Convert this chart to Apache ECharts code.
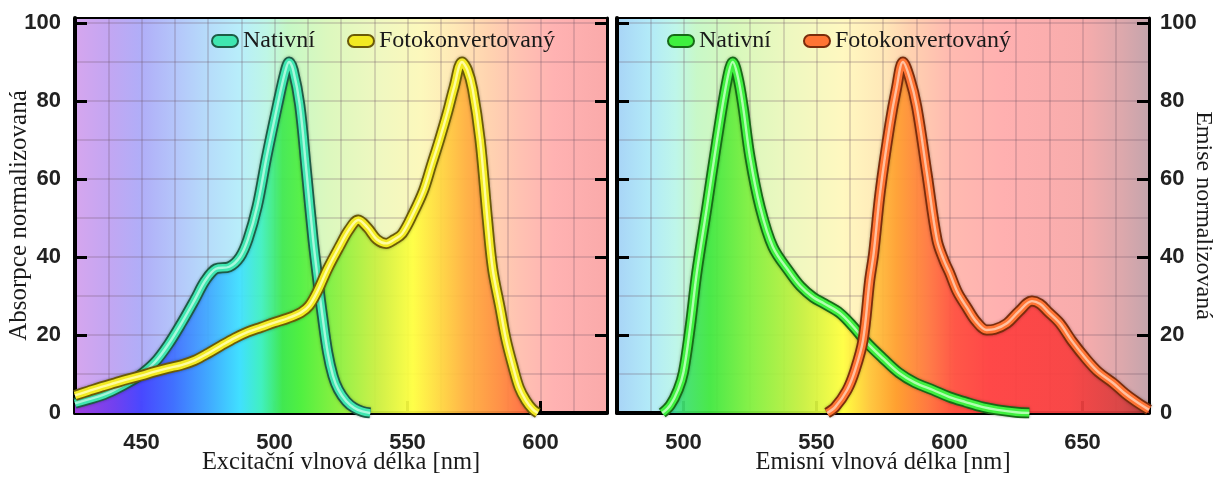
<!DOCTYPE html>
<html>
<head>
<meta charset="utf-8">
<script src="https://cdn.jsdelivr.net/npm/echarts@6/dist/echarts.min.js"></script>
<style>
html,body{margin:0;padding:0;background:#fff;}
#chart{width:1216px;height:477px;}
</style>
</head>
<body>
<div id="chart"></div>
<script>
// ---- Data ----
const excNatX = [425,430,435,440,445,450,455,460,465,470,474,478,483,487,490,493.5,497,501,504,505.5,507,509.5,512,514.5,516.5,518,520,522,524,527,530,533,536];
const excNatY = [2.5,3.5,4.5,6,7.8,10,13,17.5,23,29,34,37,37.5,40,44.5,53,65.5,78.5,87.5,90,88,79,62,44.5,33,25,15.5,9.5,6,3,1.3,0.4,0];

const excFotoX = [425,430,435,440,445,450,455,460,465,470,475,480,485,490,495,500,505,510,513,516,520,524.5,528,531.5,535,538.5,542,545,548,552,556,559,562,565,567.5,570.5,572.5,574.5,577.3,580,582,584.8,587,589.7,592,594.5,597,599];
const excFotoY = [4.5,5.6,6.7,7.7,8.7,9.6,10.6,11.5,12.3,13.5,15.3,17.3,19.2,20.8,22,23.2,24.3,25.8,27.5,31,37,42.8,47,49.5,47.5,44.5,43.5,44.5,46,51,57,63.5,70,77,83.5,90,88,83,70,50,37,27,19,11.8,6.5,3.2,1,0];

const emNatX = [492,495,498,500,502.5,505,508.8,512.6,516.4,518.5,520.5,522.4,525,528.8,533.6,540,544,548.7,553,558.8,564,569,575,581,587,593.8,600,606,612.6,618,625,630];
const emNatY = [0,2,6,10.5,22,36,52.8,70,85.4,90,86,78.5,65.6,52.8,42.6,36,32.5,29.7,28,25.6,22,18,14,10.3,7.8,5.9,4.1,2.8,1.5,0.8,0.2,0];

const emFotoX = [554,557,561.5,564.5,567.5,570,571.5,574,577.6,580,582.5,585,587.7,591.5,595.3,598,600,603,606.6,610,614,617,621.6,626,631,634,637,641.5,646,651.7,656,661.5,666,670,675];
const emFotoY = [0,1.5,5.9,11,18.7,34,41,57,74,83,90,86,78.5,61.5,44.4,39,36,31,27,23.5,21.3,21.5,23,26,28.7,28,26,23,18.5,13.6,10.5,7.7,5,3,0.8];

const excRange = [425, 625];
const emRange = [475, 675];
const xTicksExc = [450, 500, 550, 600];
const xTicksEm = [500, 550, 600, 650];
const yTicks = [0, 20, 40, 60, 80, 100];
const legendNames = ['Nativní', 'Fotokonvertovaný'];
const xNames = ['Excitační vlnová délka [nm]', 'Emisní vlnová délka [nm]'];
const yNames = ['Absorpce normalizovaná', 'Emise normalizovaná'];

// ---- Layout / style ----
const YMAX = 101.3;
const G0 = {left: 75, width: 532};
const G1 = {left: 617, width: 532};
const TOP = 18, HEIGHT = 395;
const SANS = 'Liberation Sans';
const SERIF = 'Liberation Serif';
const SMOOTH = 0.35;

function zip(xs, ys){ return xs.map((x,i)=>[x, ys[i]]); }
function grad(x0, x1, stops, global){
  return {type:'linear', x:x0, y:0, x2:x1, y2:0, global:!!global,
    colorStops: stops.map(s=>({offset:s[0], color:s[1]}))};
}
const bgExc = [[0,'#d6a6ee'],[0.06,'#c4a6f2'],[0.125,'#b0aef8'],[0.185,'#b4c4fa'],[0.25,'#b6dcfa'],[0.31,'#b8eefa'],[0.36,'#bef6e6'],[0.4,'#c6f8c6'],[0.475,'#dcf8be'],[0.575,'#f0f8c0'],[0.65,'#fcf8bc'],[0.715,'#ffe8b6'],[0.775,'#ffd4b0'],[0.835,'#ffc2b2'],[0.9,'#ffb2b2'],[1,'#faaaaa']];
const satExc = [[0,'#a040e0'],[0.075,'#7040f0'],[0.125,'#4848ff'],[0.185,'#4070ff'],[0.25,'#40a8ff'],[0.31,'#40e0ff'],[0.35,'#40f0c0'],[0.39,'#40e850'],[0.425,'#50f040'],[0.5,'#90f040'],[0.575,'#d0f040'],[0.635,'#ffff40'],[0.685,'#ffd840'],[0.735,'#ffb040'],[0.8,'#ff8c40'],[0.85,'#ff6a40'],[0.925,'#ff5050'],[1,'#ff5050']];
const bgEm = [[0,'#a8d4f6'],[0.06,'#b2eaf8'],[0.11,'#bef6ea'],[0.15,'#c8f8c8'],[0.225,'#d8f8bc'],[0.325,'#eef8c0'],[0.425,'#fff8c0'],[0.5,'#ffe8b8'],[0.55,'#ffd2b0'],[0.625,'#ffbab0'],[0.725,'#ffb0b0'],[0.875,'#f8acac'],[0.95,'#dca8ac'],[1,'#c4a4ac']];
const satEm = [[0,'#40c0f0'],[0.075,'#40d8e8'],[0.125,'#40e070'],[0.175,'#40e840'],[0.25,'#80f040'],[0.35,'#c8f040'],[0.425,'#ffff40'],[0.475,'#ffc840'],[0.525,'#ffa030'],[0.585,'#ff7840'],[0.635,'#ff5040'],[0.7,'#ff4040'],[0.85,'#f84040'],[0.95,'#d84040'],[1,'#b03838']];

const gridLineStyle = {color:'rgba(110,80,100,0.22)', width:2};

function axesFor(gi, g, range, xTicks, side){
  const xs = [
    {gridIndex:gi, type:'value', min:range[0], max:range[1], position:'bottom',
     axisLine:{show:true, onZero:false, lineStyle:{color:'#000', width:4}},
     axisTick:{show:true, inside:true, length:12, lineStyle:{color:'#000', width:3}, customValues:xTicks},
     axisLabel:{customValues:xTicks, fontFamily:SANS, fontWeight:'bold', fontSize:22, color:'#222', margin:19},
     splitLine:{show:false},
     name:xNames[gi], nameLocation:'middle', nameGap:37, nameMoveOverlap:false,
     nameTextStyle:{fontFamily:SERIF, fontSize:24.5, color:'#1a1a1a'}},
    {gridIndex:gi, type:'value', min:range[0], max:range[1], position:'top',
     axisLine:{show:true, onZero:false, lineStyle:{color:'#000', width:2}},
     axisTick:{show:false}, axisLabel:{show:false}, splitLine:{show:false}},
    {gridIndex:gi, type:'value', min:range[0], max:range[1], interval:12.5,
     axisLine:{show:false}, axisTick:{show:false}, axisLabel:{show:false},
     splitLine:{show:true, lineStyle:gridLineStyle}}
  ];
  const labelSide = side;
  const otherSide = side === 'left' ? 'right' : 'left';
  const ys = [
    {gridIndex:gi, type:'value', min:0, max:YMAX, position:labelSide,
     axisLine:{show:true, onZero:false, lineStyle:{color:'#000', width: side==='left'?4:3}},
     axisTick:{show:true, inside:true, length:12, lineStyle:{color:'#000', width:3}, customValues:yTicks},
     axisLabel:{customValues:yTicks, fontFamily:SANS, fontWeight:'bold', fontSize:22, color:'#222', margin: side==='left'?14:11},
     splitLine:{show:false},
     name:yNames[gi], nameLocation:'middle', nameGap: side==='left'?43:42, nameMoveOverlap:false,
     nameRotate: side==='left'?90:-90,
     nameTextStyle:{fontFamily:SERIF, fontSize: side==='left'?25:24, color:'#1a1a1a'}},
    {gridIndex:gi, type:'value', min:0, max:YMAX, position:otherSide,
     axisLine:{show:true, onZero:false, lineStyle:{color:'#000', width: side==='left'?3:4}},
     axisTick:{show:true, inside:true, length:12, lineStyle:{color:'#000', width:3}, customValues:yTicks},
     axisLabel:{show:false}, splitLine:{show:false}},
    {gridIndex:gi, type:'value', min:0, max:YMAX, interval:10, position:otherSide,
     axisLine:{show:false}, axisTick:{show:false}, axisLabel:{show:false},
     splitLine:{show:true, lineStyle:gridLineStyle}}
  ];
  return {xs, ys};
}

const a0 = axesFor(0, G0, excRange, xTicksExc, 'left');
const a1 = axesFor(1, G1, emRange, xTicksEm, 'right');
const xAxis = a0.xs.concat(a1.xs);
const yAxis = a0.ys.concat(a1.ys);

function areaSeries(id, data, xi, yi, g, stops){
  return {type:'line', id:id, data:data, xAxisIndex:xi, yAxisIndex:yi, smooth:SMOOTH,
    symbol:'none', silent:true, z:2, lineStyle:{width:0, opacity:0},
    areaStyle:{opacity:0.93, color: grad(g.left, g.left+g.width, stops, true)}};
}
function lineSeries(name, data, xi, yi, c, z){
  const base = {type:'line', data:data, xAxisIndex:xi, yAxisIndex:yi, smooth:SMOOTH, symbol:'none', silent:true};
  return [
    Object.assign({}, base, {name:name+'__o', z:z, lineStyle:{width:11, color:c.dark, shadowColor:'rgba(0,0,0,0.35)', shadowBlur:3, join:'round'}}),
    Object.assign({}, base, {name:name, z:z+1, color:c.main, lineStyle:{width:7.5, color:c.main, join:'round'}}),
    Object.assign({}, base, {name:name+'__h', z:z+2, lineStyle:{width:2.4, color:c.light, join:'round'}})
  ];
}
const cExcNat = {dark:'#1d5c46', main:'#3fe6b0', light:'#a8f8dc'};
const cExcFoto = {dark:'#6a5a08', main:'#f2ea22', light:'#fffca0'};
const cEmNat = {dark:'#176a17', main:'#3ff03f', light:'#b0ffb0'};
const cEmFoto = {dark:'#7a2c0c', main:'#ff7434', light:'#ffc0a0'};

const dExcNat = zip(excNatX, excNatY);
const dExcFoto = zip(excFotoX, excFotoY);
const dEmNat = zip(emNatX, emNatY);
const dEmFoto = zip(emFotoX, emFotoY);

const N0 = legendNames[0] + ' (excitace)';
const F0 = legendNames[1] + ' (excitace)';
const N1 = legendNames[0] + ' (emise)';
const F1 = legendNames[1] + ' (emise)';

const series = [
  areaSeries('a1', dExcFoto, 0, 2, G0, satExc),
  areaSeries('a2', dExcNat, 0, 2, G0, satExc),
  areaSeries('a3', dEmNat, 3, 5, G1, satEm),
  areaSeries('a4', dEmFoto, 3, 5, G1, satEm),
].concat(
  lineSeries(N0, dExcNat, 0, 2, cExcNat, 5),
  lineSeries(F0, dExcFoto, 0, 2, cExcFoto, 8),
  lineSeries(N1, dEmNat, 3, 5, cEmNat, 5),
  lineSeries(F1, dEmFoto, 3, 5, cEmFoto, 8)
);

const PILL = 'path://M6,0 L20,0 A6,6 0 0 1 20,12 L6,12 A6,6 0 0 1 6,0 Z';
function legendItem(name, c){
  return {name:name, icon:PILL, itemStyle:{color:c.main, borderColor:c.dark, borderWidth:2}};
}
const legendBase = {orient:'horizontal', top:24, itemWidth:26, itemHeight:13, itemGap:32, selectedMode:false,
  formatter: n => n.split(' (')[0],
  textStyle:{fontFamily:SERIF, fontSize:24, color:'#1a1a1a'}};

const option = {
  animation:false,
  backgroundColor:'#ffffff',
  grid:[
    {left:G0.left, top:TOP, width:G0.width, height:HEIGHT, show:true, borderWidth:0, outerBoundsMode:'none', containLabel:false, backgroundColor:grad(0,1,bgExc,false)},
    {left:G1.left, top:TOP, width:G1.width, height:HEIGHT, show:true, borderWidth:0, outerBoundsMode:'none', containLabel:false, backgroundColor:grad(0,1,bgEm,false)}
  ],
  legend:[
    Object.assign({}, legendBase, {left:206, data:[legendItem(N0,cExcNat), legendItem(F0,cExcFoto)]}),
    Object.assign({}, legendBase, {left:662, data:[legendItem(N1,cEmNat), legendItem(F1,cEmFoto)]})
  ],
  xAxis:xAxis,
  yAxis:yAxis,
  series:series
};

const chart = echarts.init(document.getElementById('chart'), null, {renderer:'canvas'});
chart.setOption(option);
</script>
</body>
</html>
